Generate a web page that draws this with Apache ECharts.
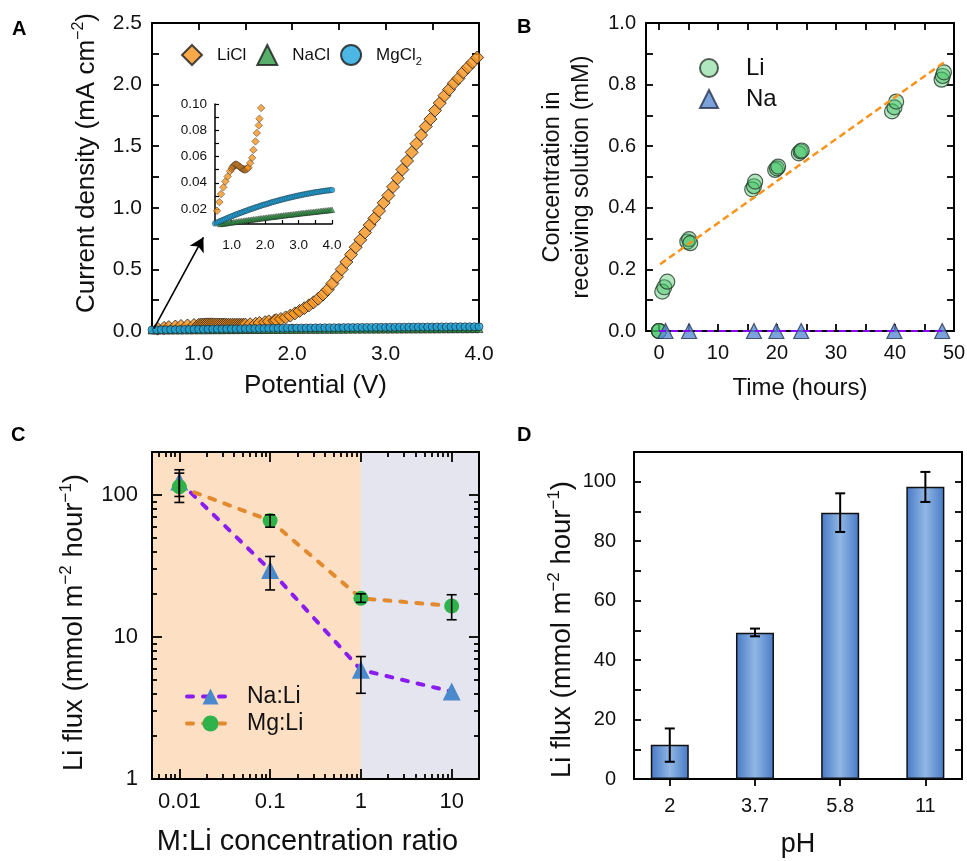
<!DOCTYPE html>
<html><head><meta charset="utf-8">
<script src="https://cdn.jsdelivr.net/npm/echarts@6/dist/echarts.min.js"></script>
<style>html,body{margin:0;padding:0;background:#fff}#c{width:967px;height:861px}</style>
</head><body><div id="c"></div><script>
// ---------- Panel A data ----------
const potential = [0.50,0.55,0.60,0.65,0.70,0.75,0.80,0.85,0.90,0.95,1.00,1.05,1.10,1.15,1.20,1.25,1.30,1.35,1.40,1.45,1.50,1.55,1.60,1.65,1.70,1.75,1.80,1.85,1.90,1.95,2.00,2.05,2.10,2.15,2.20,2.25,2.30,2.35,2.40,2.45,2.50,2.55,2.60,2.65,2.70,2.75,2.80,2.85,2.90,2.95,3.00,3.05,3.10,3.15,3.20,3.25,3.30,3.35,3.40,3.45,3.50,3.55,3.60,3.65,3.70,3.75,3.80,3.85,3.90,3.95,4.00];
const naclCurrent = [0.0080,0.0082,0.0084,0.0086,0.0088,0.0089,0.0091,0.0093,0.0095,0.0097,0.0099,0.0100,0.0102,0.0104,0.0106,0.0107,0.0109,0.0111,0.0113,0.0115,0.0117,0.0118,0.0120,0.0122,0.0123,0.0125,0.0127,0.0129,0.0130,0.0132,0.0134,0.0135,0.0137,0.0139,0.0140,0.0142,0.0144,0.0145,0.0147,0.0148,0.0150,0.0152,0.0153,0.0155,0.0156,0.0158,0.0159,0.0161,0.0162,0.0164,0.0166,0.0167,0.0169,0.0170,0.0172,0.0173,0.0175,0.0176,0.0177,0.0179,0.0180,0.0182,0.0183,0.0185,0.0186,0.0188,0.0189,0.0190,0.0192,0.0193,0.0195];
const mgcl2Current = [0.0090,0.0096,0.0101,0.0107,0.0113,0.0118,0.0123,0.0129,0.0134,0.0139,0.0145,0.0150,0.0155,0.0160,0.0165,0.0170,0.0174,0.0179,0.0184,0.0188,0.0193,0.0198,0.0202,0.0206,0.0211,0.0215,0.0219,0.0223,0.0228,0.0232,0.0235,0.0239,0.0243,0.0247,0.0251,0.0255,0.0258,0.0262,0.0265,0.0269,0.0272,0.0275,0.0279,0.0282,0.0285,0.0288,0.0291,0.0294,0.0297,0.0300,0.0303,0.0305,0.0308,0.0311,0.0313,0.0316,0.0318,0.0320,0.0323,0.0325,0.0327,0.0329,0.0331,0.0333,0.0335,0.0337,0.0339,0.0341,0.0342,0.0344,0.0345];
const liclPotential = [0.56,0.63,0.68,0.75,0.81,0.88,0.95,
 1.00,1.02,1.04,1.06,1.08,1.10,1.12,1.14,1.16,1.18,1.20,1.22,1.24,1.26,1.28,1.30,1.32,1.34,1.36,1.38,1.40,1.42,1.44,1.46,1.48,1.50,
 1.55,1.61,1.65,1.71,1.75,1.81,1.83,1.88,
 1.93,1.98,2.03,2.08,2.13,2.18,2.23,2.28,2.33,2.38,2.43,2.48,2.53,2.58,2.63,2.68,2.73,2.78,2.83,2.88,2.93,2.98,3.03,3.08,3.13,3.18,3.23,3.28,3.33,3.38,3.43,3.48,3.53,3.58,3.63,3.68,3.73,3.78,3.83,3.88,3.93,3.98];
const liclCurrent = [0.0187,0.0253,0.0314,0.0365,0.0410,0.0448,0.0487,
 0.0505,0.0515,0.0524,0.0530,0.0535,0.0538,0.0539,0.0538,0.0536,0.0533,0.0530,0.0526,0.0522,0.0518,0.0514,0.0510,0.0507,0.0504,0.0502,0.0501,0.0501,0.0502,0.0504,0.0507,0.0511,0.0517,
 0.0550,0.0590,0.0650,0.0715,0.0780,0.0837,0.0888,0.0970,
 0.110,0.125,0.143,0.163,0.185,0.208,0.233,0.262,0.296,0.336,0.385,0.440,0.500,0.560,0.620,0.680,0.740,0.800,0.860,0.915,0.975,1.040,1.100,1.170,1.240,1.310,1.380,1.450,1.520,1.590,1.660,1.720,1.790,1.850,1.910,1.960,2.010,2.050,2.100,2.140,2.180,2.220];
const arrowFrom = [0.52, 0.02];
const arrowTo = [1.05, 0.76];

// ---------- Panel B data ----------
const liTime = [0,0,0,0.56,0.9,1.4,4.8,5.1,5.3,15.8,16.1,16.3,19.7,20.0,20.2,23.7,24.0,24.2,39.5,39.9,40.2,47.9,48.1,48.3];
const liConc = [0,0,0,0.128,0.142,0.16,0.29,0.298,0.285,0.46,0.47,0.485,0.523,0.528,0.534,0.577,0.583,0.586,0.713,0.726,0.745,0.816,0.828,0.84];
const naTime = [1.1,5.1,16.1,19.9,24.1,39.9,48.0];
const naConc = [0,0,0,0,0,0,0];
const fitTime = [0.2, 48.5];
const fitConc = [0.217, 0.875];
const naFitTime = [0, 48];
const naFitConc = [0, 0];

// ---------- Panel C data ----------
const ratios = [0.01, 0.1, 1, 10];
const naLiFlux = [124, 29.6, 5.86, 4.12];
const naLiLow = [88.3, 21.4, 4.01, null];
const naLiHigh = [150, 36.8, 7.27, null];
const mgLiFlux = [114, 65.9, 18.7, 16.5];
const mgLiLow = [97.3, 59.2, 17.5, 13.2];
const mgLiHigh = [142, 72.3, 20.1, 19.8];

// ---------- Panel D data ----------
const phLabels = ['2', '3.7', '5.8', '11'];
const phFlux = [11.5, 49.2, 89.6, 98.3];
const phLow = [5.8, 48.0, 83.1, 93.2];
const phHigh = [17.0, 50.6, 96.1, 103.3];

// ---------- helpers ----------
const F = 'Arial, "Liberation Sans", Helvetica, sans-serif';
const K = '#111';
const zip = (a, b) => a.map((v, i) => [v, b[i]]);
function axis(o) {
  const a = {
    type: o.type || 'value', gridIndex: o.grid, position: o.pos,
    min: o.min, max: o.max, z: o.z || 0,
    axisLine: {show: o.line !== false, onZero: false, lineStyle: {color: '#000', width: o.lw || 2}},
    axisTick: {show: o.tick !== false, inside: !o.out, length: o.tl || 7, lineStyle: {color: '#000', width: o.tw || 1.8}},
    axisLabel: {show: !!o.label, color: K, fontFamily: F, fontSize: o.fs || 20, margin: o.margin || 8},
    splitLine: {show: false}, minorTick: {show: false}, minorSplitLine: {show: false}
  };
  if (o.interval != null) a.interval = o.interval;
  if (o.ticks) a.axisTick.customValues = o.ticks;
  if (o.labels) a.axisLabel.customValues = o.labels;
  if (o.fmt) a.axisLabel.formatter = o.fmt;
  if (o.name) {
    a.name = o.name; a.nameLocation = 'middle'; a.nameGap = o.nameGap;
    if (o.nameRotate != null) a.nameRotate = o.nameRotate;
    a.nameTextStyle = Object.assign({fontFamily: F, color: K}, o.nameStyle || {});
  }
  return a;
}
const intFmt = v => Math.abs(v - Math.round(v)) < 1e-6 ? v.toFixed(1) : '';
const halfFmt = v => Math.abs(v * 2 - Math.round(v * 2)) < 1e-6 ? v.toFixed(1) : '';
const evenTenthFmt = v => Math.round(v * 10) % 2 === 0 ? v.toFixed(1) : '';
const supRich = (fs, sfs, lh) => ({
  a: {fontFamily: F, color: K, fontSize: fs, lineHeight: lh},
  s: {fontFamily: F, color: K, fontSize: sfs, lineHeight: sfs * 0.8, verticalAlign: 'top'}
});
const logMinorC_x = [0.006,0.007,0.008,0.009,0.02,0.03,0.04,0.05,0.06,0.07,0.08,0.09,0.2,0.3,0.4,0.5,0.6,0.7,0.8,0.9,2,3,4,5,6,7,8,9];
const logMinorC_y = [2,3,4,5,6,7,8,9,20,30,40,50,60,70,80,90];
function errRender(capHalf, lw) {
  return function (params, api) {
    const x = api.value(0), lo = api.value(1), hi = api.value(2);
    const a = api.coord([x, lo]), b = api.coord([x, hi]);
    const style = {stroke: '#000', lineWidth: lw, fill: null};
    return {type: 'group', children: [
      {type: 'line', shape: {x1: a[0], y1: a[1], x2: b[0], y2: b[1]}, style: style},
      {type: 'line', shape: {x1: a[0] - capHalf, y1: a[1], x2: a[0] + capHalf, y2: a[1]}, style: style},
      {type: 'line', shape: {x1: b[0] - capHalf, y1: b[1], x2: b[0] + capHalf, y2: b[1]}, style: style}
    ]};
  };
}
const errData = (xs, lo, hi) => xs.map((x, i) => [x, lo[i], hi[i]]).filter(d => d[1] != null);

const tens = [0,10,20,30,40,50];
const fives = [0,5,10,15,20,25,30,35,40,45,50];

const chart = echarts.init(document.getElementById('c'), null, {renderer: 'canvas'});
const option = {
  animation: false,
  backgroundColor: '#fff',
  textStyle: {fontFamily: F},
  grid: [
    {left: 152, top: 23, width: 327, height: 308, outerBoundsMode: 'none', containLabel: false},
    {left: 215, top: 104, width: 117, height: 120, outerBoundsMode: 'none', containLabel: false},
    {left: 646, top: 23, width: 308, height: 308, outerBoundsMode: 'none', containLabel: false},
    {left: 152, top: 452, width: 327, height: 327, outerBoundsMode: 'none', containLabel: false},
    {left: 634, top: 452, width: 328, height: 327, outerBoundsMode: 'none', containLabel: false}
  ],
  xAxis: [
    axis({grid: 0, pos: 'bottom', min: 0.5, max: 4, interval: 0.5, label: true, fs: 21, margin: 13, fmt: intFmt,
      name: 'Potential (V)', nameGap: 42, nameStyle: {fontSize: 26}}),
    axis({grid: 0, pos: 'top', min: 0.5, max: 4, interval: 0.5}),
    axis({grid: 1, pos: 'bottom', min: 0.5, max: 4, interval: 0.5, label: true, fs: 13.5, margin: 14, fmt: intFmt, lw: 1.5, tl: 4, tw: 1.2}),
    axis({grid: 2, pos: 'bottom', min: -2.2, max: 50, ticks: fives, labels: tens, label: true, fs: 20, margin: 12,
      name: 'Time (hours)', nameGap: 45, nameStyle: {fontSize: 24}}),
    axis({grid: 2, pos: 'top', min: -2.2, max: 50, ticks: fives}),
    axis({type: 'log', grid: 3, pos: 'bottom', min: 0.005, max: 20, ticks: ratios, labels: ratios, label: true, fs: 22, margin: 12, tl: 10, z: 3,
      fmt: v => String(+(+v).toPrecision(3)),
      name: 'M:Li concentration ratio', nameGap: 48, nameStyle: {fontSize: 29, padding: [0, 16, 0, 0]}}),
    axis({type: 'log', grid: 3, pos: 'bottom', min: 0.005, max: 20, ticks: logMinorC_x, tl: 5, line: false, z: 3}),
    axis({type: 'log', grid: 3, pos: 'top', min: 0.005, max: 20, ticks: ratios, tl: 10, z: 3}),
    axis({type: 'log', grid: 3, pos: 'top', min: 0.005, max: 20, ticks: logMinorC_x, tl: 5, line: false, z: 3}),
    axis({grid: 4, pos: 'bottom', min: -0.42, max: 3.43, ticks: [0,1,2,3], labels: [0,1,2,3], out: true, label: true, fs: 20, margin: 17,
      fmt: v => phLabels[Math.round(v)], name: 'pH', nameGap: 52, nameStyle: {fontSize: 27}}),
    axis({grid: 4, pos: 'top', min: -0.42, max: 3.43, tick: false})
  ],
  yAxis: [
    axis({grid: 0, pos: 'left', min: 0, max: 2.5, interval: 0.25, label: true, fs: 21, margin: 10, fmt: halfFmt,
      name: '{a|Current density (mA cm}{s|−2}{a|)}', nameGap: 50, nameRotate: 90,
      nameStyle: {fontSize: 26, padding: [0, 0, 0, 28], rich: supRich(26, 16, 31)}}),
    axis({grid: 0, pos: 'right', min: 0, max: 2.5, interval: 0.25}),
    axis({grid: 1, pos: 'left', min: 0.0086, max: 0.1, ticks: [0.01,0.02,0.03,0.04,0.05,0.06,0.07,0.08,0.09,0.1], labels: [0.02,0.04,0.06,0.08,0.1],
      label: true, fs: 13.5, margin: 8, fmt: v => (+v).toFixed(2), lw: 1.5, tl: 4, tw: 1.2}),
    axis({grid: 2, pos: 'left', min: 0, max: 1, interval: 0.1, label: true, fs: 20, margin: 10, fmt: evenTenthFmt,
      name: 'Concentration in\nreceiving solution (mM)', nameGap: 50, nameRotate: 90, nameStyle: {fontSize: 23.5, lineHeight: 29}}),
    axis({grid: 2, pos: 'right', min: 0, max: 1, interval: 0.1}),
    axis({type: 'log', grid: 3, pos: 'left', min: 1, max: 200, ticks: [1,10,100], labels: [1,10,100], label: true, fs: 22, margin: 14, tl: 10, z: 3,
      fmt: v => String(Math.round(v)),
      name: '{a|Li flux (mmol m}{s|−2}{a| hour}{s|−1}{a|)}', nameGap: 62, nameRotate: 90,
      nameStyle: {fontSize: 27.5, padding: [0, 14, 0, 0], rich: supRich(27.5, 17, 32)}}),
    axis({type: 'log', grid: 3, pos: 'left', min: 1, max: 200, ticks: logMinorC_y, tl: 5, line: false, z: 3}),
    axis({type: 'log', grid: 3, pos: 'right', min: 1, max: 200, ticks: [1,10,100], tl: 10, z: 3}),
    axis({type: 'log', grid: 3, pos: 'right', min: 1, max: 200, ticks: logMinorC_y, tl: 5, line: false, z: 3}),
    axis({grid: 4, pos: 'left', min: 0, max: 110, ticks: [0,10,20,30,40,50,60,70,80,90,100], labels: [0,20,40,60,80,100], label: true, fs: 20, margin: 18,
      name: '{a|Li flux (mmol m}{s|−2}{a| hour}{s|−1}{a|)}', nameGap: 56, nameRotate: 90,
      nameStyle: {fontSize: 27.5, padding: [0, 28, 0, 0], rich: supRich(27.5, 17, 32)}}),
    axis({grid: 4, pos: 'right', min: 0, max: 110, ticks: [0,10,20,30,40,50,60,70,80,90,100]})
  ],
  legend: [
    {left: 181, top: 44, padding: 0, orient: 'horizontal', itemWidth: 20, itemHeight: 20, itemGap: 10, selectedMode: false,
      data: ['LiCl', 'NaCl', 'MgCl2'],
      formatter: n => n === 'MgCl2' ? '{a|MgCl}{b|2}' : '{a|' + n + '}',
      textStyle: {fontFamily: F, color: K, fontSize: 17, padding: [0, 0, 0, 10],
        rich: {a: {fontFamily: F, color: K, fontSize: 17, lineHeight: 24}, b: {fontFamily: F, color: K, fontSize: 11, lineHeight: 11, verticalAlign: 'bottom'}}}},
    {left: 699, top: 56, padding: 0, orient: 'vertical', itemWidth: 18, itemHeight: 18, itemGap: 7, selectedMode: false,
      data: ['Li', 'Na'], textStyle: {fontFamily: F, color: K, fontSize: 24, padding: [0, 0, 0, 23]}},
    {left: 185, top: 685, padding: 0, orient: 'vertical', itemWidth: 47, itemHeight: 20, itemGap: 4, selectedMode: false,
      lineStyle: {width: 4, cap: 'round', type: [6, 10]},
      data: ['Na:Li', 'Mg:Li'], textStyle: {fontFamily: F, color: K, fontSize: 23, padding: [0, 0, 0, 8]}}
  ],
  graphic: [
    {type: 'text', left: 12, top: 19, style: {text: 'A', font: 'bold 20px ' + F, fill: '#000'}},
    {type: 'text', left: 517, top: 17, style: {text: 'B', font: 'bold 20px ' + F, fill: '#000'}},
    {type: 'text', left: 11, top: 425, style: {text: 'C', font: 'bold 20px ' + F, fill: '#000'}},
    {type: 'text', left: 517, top: 425, style: {text: 'D', font: 'bold 20px ' + F, fill: '#000'}}
  ],
  series: [
    // Panel A main
    {name: 'LiCl', type: 'scatter', xAxisIndex: 0, yAxisIndex: 0, symbol: 'diamond', symbolSize: 13, clip: true,
      itemStyle: {color: '#F7941D', borderColor: '#1a1a1a', borderWidth: 1},
      data: zip(liclPotential, liclCurrent),
      markLine: {silent: true, symbol: ['none', 'arrow'], symbolSize: [12, 14], label: {show: false},
        lineStyle: {color: '#000', width: 1.6, type: 'solid'},
        data: [[{coord: arrowFrom}, {coord: arrowTo}]]}},
    {name: 'NaCl', type: 'scatter', xAxisIndex: 0, yAxisIndex: 0, symbol: 'triangle', symbolSize: 8,
      itemStyle: {color: '#2E9B46', borderColor: '#1a1a1a', borderWidth: 0.8}, data: zip(potential, naclCurrent)},
    {name: 'MgCl2', type: 'scatter', xAxisIndex: 0, yAxisIndex: 0, symbol: 'circle', symbolSize: 8,
      itemStyle: {color: '#1FA5DE', borderColor: '#1a1a1a', borderWidth: 0.8}, data: zip(potential, mgcl2Current)},
    // Panel A inset
    {name: 'LiCl', type: 'scatter', xAxisIndex: 2, yAxisIndex: 2, symbol: 'diamond', symbolSize: 7.5, clip: true,
      itemStyle: {color: '#F7941D', borderColor: '#333', borderWidth: 0.6}, data: zip(liclPotential, liclCurrent)},
    {name: 'NaCl', type: 'scatter', xAxisIndex: 2, yAxisIndex: 2, symbol: 'triangle', symbolSize: 5.5, clip: true,
      itemStyle: {color: '#2E9B46', borderColor: '#222', borderWidth: 0.5}, data: zip(potential, naclCurrent)},
    {name: 'MgCl2', type: 'scatter', xAxisIndex: 2, yAxisIndex: 2, symbol: 'circle', symbolSize: 5.5, clip: true,
      itemStyle: {color: '#1FA5DE', borderColor: '#222', borderWidth: 0.5}, data: zip(potential, mgcl2Current)},
    // Panel B
    {name: 'Li fit', type: 'line', xAxisIndex: 3, yAxisIndex: 3, showSymbol: false, symbol: 'none',
      lineStyle: {color: '#F7941D', width: 2.5, type: [7, 4]}, data: zip(fitTime, fitConc)},
    {name: 'Li', type: 'scatter', xAxisIndex: 3, yAxisIndex: 3, symbol: 'circle', symbolSize: 15, clip: false,
      itemStyle: {color: 'rgba(60,195,95,0.5)', borderColor: '#2b3b30', borderWidth: 1.2}, data: zip(liTime, liConc)},
    {name: 'Na fit', type: 'line', xAxisIndex: 3, yAxisIndex: 3, showSymbol: false, symbol: 'none',
      lineStyle: {color: '#8B00FF', width: 2, type: [7, 5]}, data: zip(naFitTime, naFitConc)},
    {name: 'Na', type: 'scatter', xAxisIndex: 3, yAxisIndex: 3, symbol: 'triangle', symbolSize: 15, clip: false,
      itemStyle: {color: '#5A8BD3', borderColor: '#26334d', borderWidth: 1.2}, data: zip(naTime, naConc)},
    // Panel C background
    {name: 'bg', type: 'line', xAxisIndex: 5, yAxisIndex: 5, data: [], z: 1,
      markArea: {silent: true, z: 1, data: [
        [{xAxis: 0.005, itemStyle: {color: '#FDDFC4'}}, {xAxis: 1}],
        [{xAxis: 1, itemStyle: {color: '#E4E5EF'}}, {xAxis: 20}]
      ]}},
    {name: 'Na:Li', type: 'line', xAxisIndex: 5, yAxisIndex: 5, z: 4, symbol: 'triangle', symbolSize: 18,
      itemStyle: {color: '#4A89CC'}, lineStyle: {color: '#8A1CF0', width: 4, type: [6, 10], cap: 'round'},
      data: zip(ratios, naLiFlux)},
    {name: 'Mg:Li', type: 'line', xAxisIndex: 5, yAxisIndex: 5, z: 4, symbol: 'circle', symbolSize: 15,
      itemStyle: {color: '#2DB34A'}, lineStyle: {color: '#E38A2E', width: 4, type: [6, 10], cap: 'round'},
      data: zip(ratios, mgLiFlux)},
    {name: 'Na:Li err', type: 'custom', xAxisIndex: 5, yAxisIndex: 5, z: 5, renderItem: errRender(5, 1.6),
      encode: {x: 0, y: [1, 2]}, data: errData(ratios, naLiLow, naLiHigh)},
    {name: 'Mg:Li err', type: 'custom', xAxisIndex: 5, yAxisIndex: 5, z: 5, renderItem: errRender(5, 1.6),
      encode: {x: 0, y: [1, 2]}, data: errData(ratios, mgLiLow, mgLiHigh)},
    // Panel D
    {name: 'pH flux', type: 'bar', xAxisIndex: 9, yAxisIndex: 9, barWidth: 38,
      itemStyle: {borderColor: '#111', borderWidth: 1.5,
        color: {type: 'linear', x: 0, y: 0, x2: 1, y2: 0, colorStops: [
          {offset: 0, color: '#4679C6'}, {offset: 0.5, color: '#92B7E4'}, {offset: 1, color: '#4679C6'}]}},
      data: phFlux.map((v, i) => [i, v])},
    {name: 'pH err', type: 'custom', xAxisIndex: 9, yAxisIndex: 9, z: 5, renderItem: errRender(5, 2),
      encode: {x: 0, y: [1, 2]}, data: errData(phLabels.map((_, i) => i), phLow, phHigh)}
  ]
};
chart.setOption(option);
</script></body></html>
